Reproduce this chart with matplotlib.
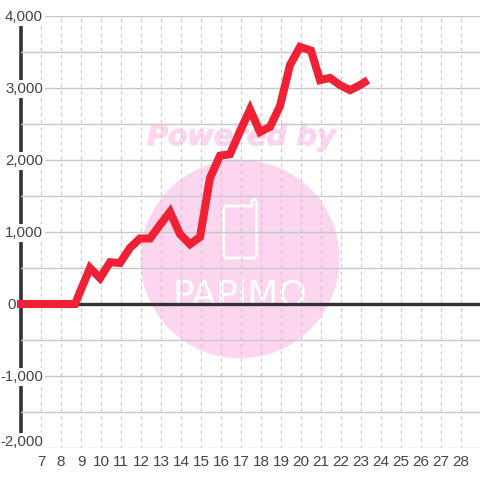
import matplotlib
matplotlib.use("Agg")
import matplotlib.pyplot as plt
import matplotlib.patheffects as pe
from matplotlib.patches import Ellipse
from matplotlib.ticker import MultipleLocator

# hours and values
hours = [5.8, 8.7, 9.45, 9.95, 10.45, 10.95, 11.45, 11.95, 12.45, 12.95, 13.45, 13.95,
         14.45, 14.95, 15.45, 15.95, 16.45, 16.95, 17.45, 17.95, 18.45, 18.95,
         19.45, 19.95, 20.5, 20.95, 21.45, 21.95, 22.45, 22.95, 23.35]
values = [0, 0, 500, 360, 580, 570, 780, 910, 910, 1100, 1280, 970,
          830, 930, 1750, 2060, 2080, 2400, 2700, 2390, 2460, 2750,
          3320, 3570, 3520, 3110, 3140, 3040, 2970, 3040, 3110]
hour_ticks = list(range(7, 29))
value_ticks = list(range(-2000, 4001, 1000))

plt.rcParams["font.family"] = ["Liberation Sans", "DejaVu Sans"]

fig = plt.figure(figsize=(4.8, 4.8), dpi=100)
ax = fig.add_axes([21 / 480, 32 / 480, 459 / 480, 432 / 480])
ax.set_xlim(6, 28.95)
ax.set_ylim(-2000, 4000)


# watermark is placed in picture pixels
def px(x, y):
    return x / 480, 1 - y / 480


# grid
ax.set_axisbelow(True)
ax.set_xticks(hour_ticks)
ax.set_yticks(value_ticks)
ax.yaxis.set_minor_locator(MultipleLocator(500))
ax.grid(axis="x", color="#c8c8c8", linewidth=0.8, linestyle=(0, (3, 3.5)))
ax.grid(axis="y", which="both", color="#c8c8c8", linewidth=1)

ax.tick_params(axis="both", which="both", length=0, labelsize=11, labelcolor="#444444")
ax.tick_params(axis="y", labelleft=False)
ax.tick_params(axis="x", pad=5)

for side in ["top", "right", "bottom"]:
    ax.spines[side].set_visible(False)
ax.spines["left"].set_linewidth(2.6)
ax.spines["left"].set_color("#333333")
ax.spines["left"].set_zorder(0.2)

pink = "#fcd6ee"
ax.add_patch(Ellipse((16.95, 625), 9.95, 2760, facecolor=pink, edgecolor="none", zorder=0.1))
ax.text(*px(241.5, 145), "Powered by", transform=fig.transFigure, color=pink,
        fontsize=20.5, fontweight="bold", fontstyle="italic", family="DejaVu Sans",
        ha="center", va="baseline", zorder=0.1,
        path_effects=[pe.withStroke(linewidth=0.8, foreground=pink)])

# phone icon
phone = [px(*p) for p in [(252, 206), (226, 206), (223.5, 209), (223.5, 255), (226, 258),
                          (254, 258), (256.5, 255), (256.5, 201), (254, 198.5), (252, 201), (252, 206)]]
ax.plot([p[0] for p in phone], [p[1] for p in phone], transform=fig.transFigure, color="white",
        linewidth=1.9, solid_joinstyle="round", zorder=0.15, clip_on=False)
ax.text(*px(240, 305), "PAPiMO", transform=fig.transFigure, color="white", fontsize=26,
        family="DejaVu Sans", ha="center", va="baseline", zorder=0.15)

ax.axhline(0, color="#333333", linewidth=2.4, zorder=1)

# y labels sit on top of the left axis line and grid, with a white box behind them
for v in value_ticks:
    text = f"{v:,}"
    if v == 0:
        ax.annotate(text, (0, v), xycoords=ax.get_yaxis_transform(), xytext=(-5, -1),
                    textcoords="offset pixels", ha="right", va="center", fontsize=10.8,
                    color="#444444", annotation_clip=False, zorder=0.6)
    else:
        shift = 6 if v == -2000 else -1
        ax.annotate(text, (0, v), xycoords=ax.get_yaxis_transform(), xytext=(22, shift),
                    textcoords="offset pixels", ha="right", va="center", fontsize=10.8,
                    color="#444444", annotation_clip=False, zorder=0.6,
                    bbox=dict(facecolor="white", edgecolor="none", pad=1.5))

ax.plot(hours, values, color="#f02035", linewidth=5.8, solid_joinstyle="miter",
        solid_capstyle="butt", zorder=3, clip_on=False)

fig.savefig("out.png", dpi=100)
